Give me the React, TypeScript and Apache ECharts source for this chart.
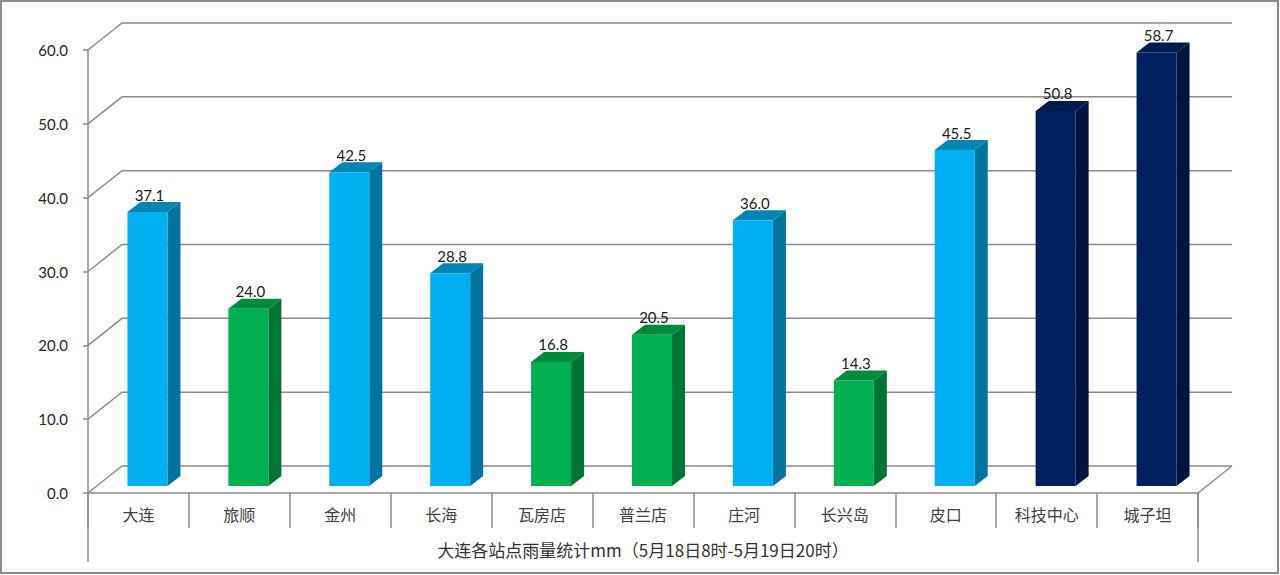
import React, { useEffect, useRef } from "react";
import * as echarts from "echarts";

const categories = ["大连", "旅顺", "金州", "长海", "瓦房店", "普兰店", "庄河", "长兴岛", "皮口", "科技中心", "城子坦"];
const rainfall = [37.1, 24.0, 42.5, 28.8, 16.8, 20.5, 36.0, 14.3, 45.5, 50.8, 58.7];
const colorGroup = ["blue", "green", "blue", "blue", "green", "green", "blue", "green", "blue", "navy", "navy"];
const gridValues = [0, 10, 20, 30, 40, 50, 60];
const axisTitle = "大连各站点雨量统计mm（5月18日8时-5月19日20时）";

const palette: Record<string, { front: string; side: string; top: string }> = {
  blue: { front: "#00B0F0", side: "#00739E", top: "#0085B5" },
  green: { front: "#00B050", side: "#007335", top: "#008A3E" },
  navy: { front: "#002060", side: "#00143F", top: "#001A4E" },
};

const WALL_DX = 34;
const WALL_DY = -27;
const BAR_OFF_X = 9;
const BAR_OFF_Y = -7;
const BAR_DX = 13;
const BAR_DY = -10;
const BAR_W = 40;
const LINE = "#8C8C8C";

export default function App() {
  const ref = useRef<HTMLDivElement>(null);
  useEffect(() => {
    document.body.style.margin = "0";
    const chart = echarts.init(ref.current!, null, { renderer: "svg" });
    const n = categories.length;
    chart.setOption({
      animation: false,
      backgroundColor: "#fff",
      graphic: [
        {
          type: "rect",
          shape: { x: 1, y: 1, width: 1277, height: 572 },
          style: { fill: "none", stroke: "#8C8C8C", lineWidth: 2 },
          z: 0,
        },
      ],
      grid: { left: 88, right: 82, top: 50, bottom: 82 },
      xAxis: {
        type: "category",
        data: categories,
        boundaryGap: true,
        name: axisTitle,
        nameLocation: "middle",
        nameGap: 48,
        nameTextStyle: { fontSize: 17, color: "#333333", fontFamily: "Noto Sans CJK SC" },
        axisLine: { lineStyle: { color: LINE, width: 1.5 } },
        axisTick: { show: true, interval: 0, length: 35, lineStyle: { color: LINE, width: 1.5 } },
        axisLabel: { interval: 0, margin: 13, fontSize: 16, color: "#404040", fontFamily: "Noto Sans CJK SC" },
      },
      yAxis: {
        type: "value",
        min: 0,
        max: 60,
        interval: 10,
        axisLine: { show: true, lineStyle: { color: LINE, width: 1.5 } },
        axisTick: { show: true, length: 5, lineStyle: { color: LINE, width: 1.5 } },
        splitLine: { show: false },
        axisLabel: {
          margin: 20,
          fontSize: 15,
          color: "#262626",
          fontFamily: "Lato",
          formatter: (v: number) => v.toFixed(1),
        },
      },
      series: [
        {
          type: "custom",
          name: "frame",
          z: 1,
          silent: true,
          data: gridValues.map((v) => [0, v]),
          renderItem: (params: any, api: any) => {
            const v = api.value(1);
            const bw = api.size([1, 0])[0];
            const p0 = api.coord([0, v]);
            const pN = api.coord([n - 1, v]);
            const left = p0[0] - bw / 2;
            const right = pN[0] + bw / 2;
            const y = p0[1];
            const children: any[] = [
              {
                type: "polyline",
                shape: {
                  points: [
                    [left, y],
                    [left + WALL_DX, y + WALL_DY],
                    [right + WALL_DX, y + WALL_DY],
                  ],
                },
                style: { stroke: LINE, lineWidth: 1.5, fill: "none" },
              },
            ];
            if (v === 0) {
              children.push({
                type: "line",
                shape: { x1: right, y1: y, x2: right + WALL_DX, y2: y + WALL_DY },
                style: { stroke: LINE, lineWidth: 1.5 },
              });
              children.push({
                type: "line",
                shape: { x1: left, y1: y, x2: left, y2: y + 69 },
                style: { stroke: LINE, lineWidth: 1.5 },
              });
              children.push({
                type: "line",
                shape: { x1: right, y1: y, x2: right, y2: y + 69 },
                style: { stroke: LINE, lineWidth: 1.5 },
              });
            }
            return { type: "group", children };
          },
        },
        {
          type: "custom",
          name: "雨量",
          z: 2,
          data: rainfall.map((v, i) => [i, v]),
          renderItem: (params: any, api: any) => {
            const i = api.value(0);
            const v = api.value(1);
            const c = palette[colorGroup[i]];
            const top = api.coord([i, v]);
            const base = api.coord([i, 0]);
            const x0 = top[0] + BAR_OFF_X - BAR_W / 2;
            const x1 = x0 + BAR_W;
            const yT = top[1] + BAR_OFF_Y;
            const yB = base[1] + BAR_OFF_Y;
            return {
              type: "group",
              children: [
                {
                  type: "polygon",
                  shape: {
                    points: [
                      [x1, yT],
                      [x1 + BAR_DX, yT + BAR_DY],
                      [x1 + BAR_DX, yB + BAR_DY],
                      [x1, yB],
                    ],
                  },
                  style: { fill: c.side },
                },
                {
                  type: "polygon",
                  shape: {
                    points: [
                      [x0, yT],
                      [x0 + BAR_DX, yT + BAR_DY],
                      [x1 + BAR_DX, yT + BAR_DY],
                      [x1, yT],
                    ],
                  },
                  style: { fill: c.top },
                },
                {
                  type: "rect",
                  shape: { x: x0, y: yT, width: BAR_W, height: yB - yT },
                  style: { fill: c.front },
                },
                {
                  type: "text",
                  style: {
                    x: (x0 + x1) / 2 + 2,
                    y: yT + BAR_DY,
                    text: v.toFixed(1),
                    align: "center",
                    verticalAlign: "bottom",
                    fontSize: 15,
                    fontFamily: "Lato",
                    fill: "#1a1a1a",
                  },
                },
              ],
            };
          },
        },
      ],
    });
    return () => chart.dispose();
  }, []);
  return <div ref={ref} style={{ width: 1280, height: 575 }} />;
}
